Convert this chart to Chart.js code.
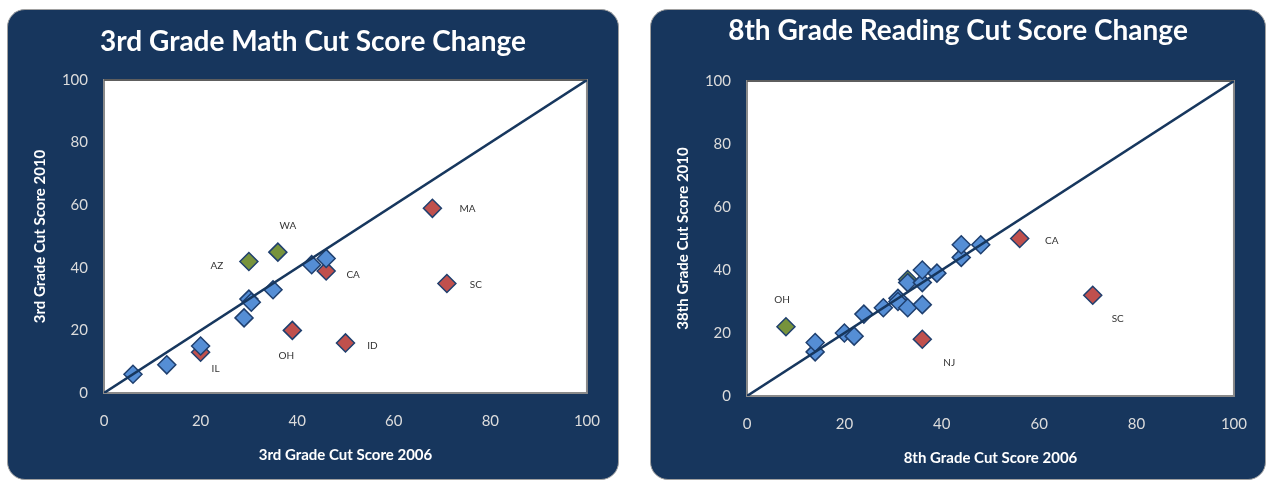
<!DOCTYPE html>
<html>
<head>
<meta charset="utf-8">
<script src="https://cdn.jsdelivr.net/npm/chart.js@4/dist/chart.umd.min.js"></script>
<style>
  body { margin: 0; background: #fff; width: 1267px; height: 483px; overflow: hidden; position: relative; }
  .panel { position: absolute; background: #17365d; border: 1px solid #a0a0a0; border-radius: 18px; box-sizing: border-box; }
  canvas { position: absolute; }
</style>
</head>
<body>
<div class="panel" style="left:7px; top:9px; width:612px; height:471px;"></div>
<canvas id="mathChart" width="612" height="471" style="left:7px; top:9px;"></canvas>
<div class="panel" style="left:650px; top:9px; width:616px; height:471px;"></div>
<canvas id="readingChart" width="616" height="471" style="left:650px; top:9px;"></canvas>

<script>
// 3rd grade math: x = 2006 cut score, y = 2010 cut score
const mathBlueX = [6, 13, 20, 29, 30, 30.5, 35, 43, 46];
const mathBlueY = [6, 9, 15, 24, 30, 29, 33, 41, 43];
const mathRedStates = ['IL', 'OH', 'CA', 'ID', 'MA', 'SC'];
const mathRedX = [20, 39, 46, 50, 68, 71];
const mathRedY = [13, 20, 39, 16, 59, 35];
const mathGreenStates = ['AZ', 'WA'];
const mathGreenX = [30, 36];
const mathGreenY = [42, 45];

// 8th grade reading
const readBlueX = [14, 14, 20, 22, 24, 28, 31, 31, 33, 36, 33, 36, 36, 39, 44, 44, 48];
const readBlueY = [14, 17, 20, 19, 26, 28, 31, 30, 28, 29, 36, 36, 40, 39, 44, 48, 48];
const readRedStates = ['NJ', 'CA', 'SC'];
const readRedX = [36, 56, 71];
const readRedY = [18, 50, 32];
const readGreenStates = ['OH', ''];
const readGreenX = [8, 33];
const readGreenY = [22, 37];

// equal-score reference line
const lineX = [0, 100];
const lineY = [0, 100];

const axisTicks = [0, 20, 40, 60, 80, 100];

// label offsets in pixels from the marker, per state
const labelOffsets = {
  IL: [15, 16], OH: [-6, 25], CA: [27, 4], ID: [27, 3], MA: [35, 0], SC: [29, 1],
  AZ: [-32, 4], WA: [10, -26]
};
const readLabelOffsets = { NJ: [27, 23], CA: [32, 2], SC: [25, 24], OH: [-4, -27] };

const BLUE = '#558ed5';
const RED = '#c0504d';
const GREEN = '#77933c';
const EDGE = '#1f3f6e';

function pts(xs, ys) {
  return xs.map((x, i) => ({ x: x, y: ys[i] }));
}

const plotBackground = {
  id: 'plotBackground',
  beforeDraw(chart) {
    const { ctx, chartArea: a } = chart;
    ctx.save();
    ctx.fillStyle = '#ffffff';
    ctx.fillRect(a.left, a.top, a.width, a.height);
    ctx.strokeStyle = '#8a8a8a';
    ctx.lineWidth = 2;
    ctx.strokeRect(a.left, a.top, a.width, a.height);
    ctx.strokeStyle = '#333333';
    ctx.lineWidth = 1;
    ctx.beginPath();
    ctx.moveTo(a.left, a.top);
    ctx.lineTo(a.right, a.top);
    ctx.stroke();
    ctx.restore();
  }
};

const pointLabels = {
  id: 'pointLabels',
  afterDatasetsDraw(chart) {
    const ctx = chart.ctx;
    ctx.save();
    ctx.font = '10px Lato';
    ctx.fillStyle = '#333333';
    ctx.textAlign = 'center';
    ctx.textBaseline = 'middle';
    chart.data.datasets.forEach((ds, i) => {
      if (!ds.labels) return;
      chart.getDatasetMeta(i).data.forEach((pt, j) => {
        const text = ds.labels[j];
        if (!text) return;
        const off = ds.offsets[text];
        ctx.fillText(text, pt.x + off[0], pt.y + off[1]);
      });
    });
    ctx.restore();
  }
};

function marker(data, color) {
  return {
    data: data,
    pointStyle: 'rectRot',
    pointRadius: 9,
    pointHoverRadius: 9,
    backgroundColor: color,
    borderColor: EDGE,
    borderWidth: 1.5
  };
}

function makeChart(id, opts) {
  const datasets = [
    {
      data: pts(lineX, lineY),
      showLine: true,
      borderColor: '#17375e',
      borderWidth: 2.5,
      pointRadius: 0
    },
    marker(pts(opts.blueX, opts.blueY), BLUE),
    Object.assign(marker(pts(opts.redX, opts.redY), RED), { labels: opts.redStates, offsets: opts.offsets }),
    Object.assign(marker(pts(opts.greenX, opts.greenY), GREEN), { labels: opts.greenStates, offsets: opts.offsets })
  ];

  const tickFont = { family: 'Lato', size: 15 };
  const titleFont = { family: 'Lato', size: 15, weight: 'bold', lineHeight: 1.2 };

  return new Chart(document.getElementById(id), {
    type: 'scatter',
    data: { datasets: datasets },
    plugins: [plotBackground, pointLabels],
    options: {
      responsive: false,
      animation: false,
      // same padding both sides so the title stays centred on the panel
      layout: { padding: { left: opts.pad, top: 0, bottom: 0, right: opts.pad } },
      plugins: {
        legend: { display: false },
        tooltip: { enabled: false },
        title: {
          display: true,
          text: opts.title,
          color: '#ffffff',
          font: { family: 'Lato', size: 28, weight: 'bold', lineHeight: 1.2 },
          padding: { top: opts.titleTop, bottom: opts.titleBottom }
        }
      },
      scales: {
        x: {
          type: 'linear',
          min: 0,
          max: 100,
          afterBuildTicks: s => { s.ticks = axisTicks.map(v => ({ value: v })); },
          afterFit: s => { s.height = opts.xHeight; },
          grid: { display: false, drawTicks: false },
          border: { display: false },
          ticks: { color: '#dcdcdc', font: tickFont, padding: 19, maxRotation: 0 },
          title: {
            display: true,
            text: opts.xTitle,
            color: '#ffffff',
            font: titleFont,
            padding: { top: 0, bottom: opts.xTitlePad }
          }
        },
        y: {
          type: 'linear',
          min: 0,
          max: 100,
          afterBuildTicks: s => { s.ticks = axisTicks.map(v => ({ value: v })); },
          afterFit: s => { s.width = 97 - opts.pad; },
          grid: { display: false, drawTicks: false },
          border: { display: false },
          ticks: { color: '#dcdcdc', font: tickFont, padding: 16 },
          title: {
            display: true,
            text: opts.yTitle,
            color: '#ffffff',
            font: titleFont,
            padding: { top: opts.yTitlePad, bottom: 0 }
          }
        }
      }
    }
  });
}

makeChart('mathChart', {
  title: '3rd Grade Math Cut Score Change',
  xTitle: '3rd Grade Cut Score 2006',
  yTitle: '3rd Grade Cut Score 2010',
  blueX: mathBlueX, blueY: mathBlueY,
  redX: mathRedX, redY: mathRedY, redStates: mathRedStates,
  greenX: mathGreenX, greenY: mathGreenY, greenStates: mathGreenStates,
  offsets: labelOffsets,
  pad: 32, xHeight: 87, xTitlePad: 16, yTitlePad: -7.5,
  titleTop: 16.2, titleBottom: 21.2
});

makeChart('readingChart', {
  title: '8th Grade Reading Cut Score Change',
  xTitle: '8th Grade Cut Score 2006',
  yTitle: '38th Grade Cut Score 2010',
  blueX: readBlueX, blueY: readBlueY,
  redX: readRedX, redY: readRedY, redStates: readRedStates,
  greenX: readGreenX, greenY: readGreenY, greenStates: readGreenStates,
  offsets: readLabelOffsets,
  pad: 30, xHeight: 84, xTitlePad: 13, yTitlePad: -6,
  titleTop: 5.2, titleBottom: 33.2
});
</script>
</body>
</html>
